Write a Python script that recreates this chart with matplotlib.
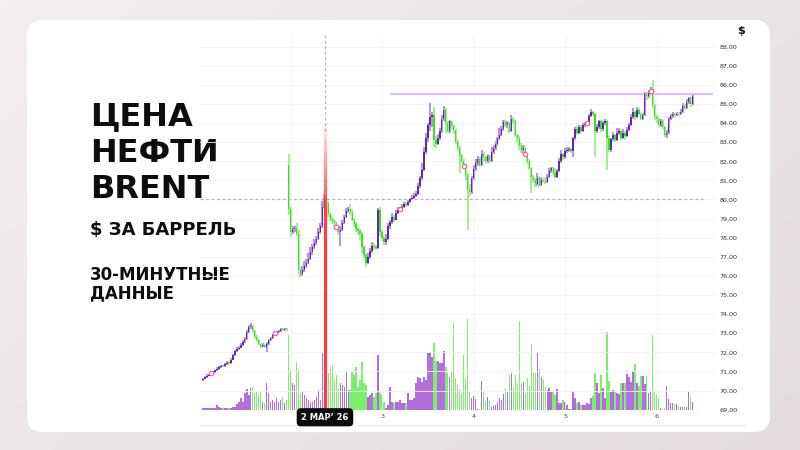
import numpy as np
import matplotlib
matplotlib.use("Agg")
import matplotlib.pyplot as plt
from matplotlib.patches import FancyBboxPatch
from matplotlib.collections import LineCollection
from matplotlib.colors import LinearSegmentedColormap

# ---- Brent, 30-minute candles (27 Feb .. 6 Mar 2026) ----
opens = [
    70.55, 70.62, 70.70, 70.78, 70.82, 70.90, 70.95, 71.05, 71.15, 71.22,
    71.30, 71.28, 71.38, 71.45, 71.42, 71.62, 71.85, 72.05, 72.18, 72.25,
    72.40, 72.55, 72.68, 73.05, 73.30, 73.40, 73.10, 72.80, 72.65, 72.45,
    72.30, 72.40, 72.30, 72.45, 72.62, 72.75, 72.90, 73.00, 73.05, 73.12,
    73.20, 73.18, 73.22, 81.80, 79.50, 78.30, 78.45, 78.50, 78.20, 76.30,
    76.10, 76.30, 76.50, 76.70, 76.90, 77.25, 77.50, 77.70, 77.95, 78.30,
    78.60, 79.60, 80.10, 79.80, 79.25, 79.00, 78.85, 78.75, 78.55, 78.30,
    78.40, 78.75, 79.10, 79.40, 79.50, 79.35, 78.95, 78.70, 78.45, 78.35,
    78.20, 77.50, 77.10, 76.70, 77.00, 77.30, 77.55, 77.50, 77.45, 79.45,
    78.30, 78.00, 77.75, 77.95, 78.60, 78.80, 79.10, 78.95, 79.30, 79.45,
    79.50, 79.62, 79.75, 79.70, 79.85, 80.00, 80.10, 80.20, 80.30, 80.70,
    81.10, 81.55, 82.50, 83.20, 83.90, 84.30, 84.40, 83.10, 82.90, 83.20,
    83.60, 84.20, 84.70, 84.00, 83.60, 84.10, 83.85, 83.60, 83.00, 82.70,
    82.25, 82.00, 81.75, 81.30, 80.50, 80.40, 81.10, 81.60, 81.90, 82.10,
    81.80, 82.40, 82.20, 82.00, 82.30, 82.00, 82.50, 82.70, 82.90, 83.15,
    83.40, 83.70, 84.05, 83.90, 84.00, 83.60, 84.20, 84.10, 83.40, 83.20,
    82.80, 82.60, 82.70, 82.38, 82.00, 81.65, 81.20, 81.00, 80.80, 81.10,
    80.75, 81.00, 80.95, 80.90, 81.20, 81.50, 81.65, 81.40, 81.20, 81.50,
    82.00, 82.40, 82.20, 82.55, 82.60, 82.65, 82.55, 83.20, 83.70, 83.50,
    83.80, 83.60, 83.90, 83.95, 84.00, 84.35, 84.60, 84.50, 83.60, 83.80,
    84.10, 83.70, 84.00, 84.10, 83.20, 82.60, 83.15, 83.40, 83.10, 83.50,
    83.60, 83.20, 83.50, 83.30, 83.65, 83.90, 84.30, 84.60, 84.30, 84.70,
    84.50, 84.20, 84.40, 85.50, 85.40, 85.60, 85.70, 84.90, 84.30, 84.20,
    83.90, 84.10, 83.80, 83.40, 83.50, 84.20, 84.35, 84.50, 84.40, 84.50,
    84.45, 84.60, 84.90, 84.80, 85.10, 85.30, 85.00,
]
highs = [
    70.68, 70.75, 70.84, 70.88, 70.96, 71.02, 71.10, 71.22, 71.28, 71.36,
    71.36, 71.44, 71.52, 71.55, 71.68, 71.92, 72.14, 72.26, 72.32, 72.48,
    72.62, 72.78, 73.15, 73.45, 73.52, 73.45, 73.15, 72.88, 72.70, 72.50,
    72.48, 72.45, 72.52, 72.70, 72.82, 72.96, 73.06, 73.12, 73.18, 73.26,
    73.25, 73.28, 73.26, 82.40, 79.60, 78.60, 78.62, 78.78, 78.40, 76.45,
    76.50, 76.80, 76.90, 77.20, 77.50, 77.65, 77.95, 78.10, 78.50, 78.75,
    79.90, 80.30, 80.20, 79.90, 79.30, 79.15, 79.00, 78.85, 78.65, 78.60,
    78.90, 79.20, 79.55, 79.60, 79.75, 79.50, 79.05, 78.80, 78.55, 78.45,
    78.30, 77.60, 77.20, 77.20, 77.45, 77.75, 77.70, 77.62, 79.55, 79.62,
    78.40, 78.10, 78.20, 78.75, 78.95, 79.30, 79.20, 79.45, 79.60, 79.62,
    79.75, 79.85, 79.85, 79.95, 80.10, 80.25, 80.32, 80.45, 80.85, 81.25,
    81.90, 82.76, 83.50, 84.00, 85.04, 84.60, 84.86, 83.30, 83.45, 83.75,
    84.40, 84.90, 84.80, 84.10, 84.15, 84.12, 83.95, 83.70, 83.10, 82.80,
    82.40, 82.10, 81.85, 81.40, 80.80, 81.25, 81.80, 82.10, 82.25, 82.20,
    82.59, 82.50, 82.30, 82.40, 82.35, 82.76, 82.85, 83.05, 83.25, 83.73,
    83.85, 84.16, 84.15, 84.10, 84.05, 84.42, 84.30, 84.15, 83.45, 83.30,
    82.94, 82.85, 82.80, 82.45, 82.10, 81.72, 81.30, 81.10, 81.37, 81.25,
    81.20, 81.15, 81.10, 81.35, 81.65, 81.72, 81.70, 81.63, 81.60, 82.15,
    82.59, 82.45, 82.68, 82.76, 82.75, 82.72, 83.29, 83.81, 83.85, 83.90,
    83.90, 83.99, 84.05, 84.10, 84.50, 84.72, 84.65, 84.55, 83.95, 84.16,
    84.15, 84.10, 84.20, 84.15, 83.30, 83.20, 83.55, 83.45, 83.73, 83.73,
    83.65, 83.70, 83.60, 83.80, 83.99, 84.50, 84.77, 84.65, 84.86, 84.80,
    84.55, 84.51, 85.64, 85.65, 85.73, 85.90, 86.26, 85.00, 84.40, 84.34,
    84.20, 84.15, 83.85, 83.65, 84.34, 84.50, 84.60, 84.55, 84.60, 84.60,
    84.75, 85.04, 85.00, 85.25, 85.38, 85.35, 85.47,
]
lows = [
    70.50, 70.58, 70.66, 70.74, 70.78, 70.86, 70.92, 71.00, 71.10, 71.18,
    71.22, 71.24, 71.34, 71.36, 71.38, 71.58, 71.80, 72.00, 72.12, 72.20,
    72.35, 72.50, 72.62, 73.00, 73.22, 73.02, 72.72, 72.55, 72.38, 72.25,
    72.26, 72.22, 72.03, 72.40, 72.58, 72.70, 72.85, 72.95, 73.00, 73.08,
    73.12, 73.14, 73.14, 79.20, 78.05, 78.20, 78.30, 78.10, 76.10, 75.95,
    76.00, 76.20, 76.40, 76.60, 76.85, 77.10, 77.40, 77.60, 77.90, 78.20,
    78.50, 79.55, 79.60, 79.10, 78.85, 78.70, 78.60, 78.45, 78.15, 77.55,
    78.35, 78.70, 79.05, 79.30, 79.20, 78.85, 78.55, 78.30, 78.15, 77.90,
    77.20, 76.90, 76.48, 76.60, 76.90, 77.20, 77.35, 77.35, 77.40, 78.10,
    77.85, 77.60, 77.62, 77.90, 78.45, 78.70, 78.80, 78.90, 79.25, 79.38,
    79.45, 79.55, 79.62, 79.65, 79.80, 79.95, 80.02, 80.15, 80.25, 80.60,
    81.00, 81.50, 82.40, 83.00, 83.60, 83.80, 82.76, 82.70, 82.85, 83.10,
    83.50, 84.10, 83.50, 83.45, 83.50, 83.70, 83.45, 82.90, 82.55, 81.37,
    81.85, 81.60, 81.00, 78.40, 80.20, 80.30, 81.00, 81.50, 81.75, 81.70,
    81.75, 82.00, 81.90, 81.90, 81.90, 81.95, 82.40, 82.60, 82.80, 83.10,
    83.30, 83.60, 83.80, 83.75, 83.47, 83.55, 83.95, 83.29, 83.00, 82.60,
    82.45, 82.40, 82.25, 81.85, 81.54, 80.32, 80.85, 80.67, 80.70, 80.67,
    80.70, 80.85, 80.80, 80.85, 81.10, 81.40, 81.30, 81.11, 81.15, 81.45,
    81.90, 82.05, 82.10, 82.45, 82.50, 82.45, 82.24, 83.10, 83.40, 83.45,
    83.47, 83.55, 83.80, 83.85, 83.95, 84.30, 84.35, 82.24, 83.47, 83.70,
    83.55, 83.60, 83.90, 81.54, 82.50, 82.50, 83.05, 83.03, 83.05, 83.40,
    83.12, 83.15, 83.12, 83.25, 83.60, 83.85, 84.20, 84.16, 84.25, 84.40,
    84.16, 84.15, 84.35, 85.21, 85.30, 85.50, 84.80, 84.16, 84.00, 83.81,
    83.80, 83.70, 83.29, 83.20, 83.45, 84.15, 84.25, 84.30, 84.35, 84.35,
    84.40, 84.51, 84.70, 84.75, 85.00, 84.86, 84.95,
]
closes = [
    70.62, 70.70, 70.78, 70.82, 70.90, 70.95, 71.05, 71.15, 71.22, 71.30,
    71.28, 71.38, 71.45, 71.42, 71.62, 71.85, 72.05, 72.18, 72.25, 72.40,
    72.55, 72.68, 73.05, 73.30, 73.40, 73.10, 72.80, 72.65, 72.45, 72.30,
    72.40, 72.30, 72.45, 72.62, 72.75, 72.90, 73.00, 73.05, 73.12, 73.20,
    73.18, 73.22, 73.20, 79.50, 78.30, 78.45, 78.50, 78.20, 76.30, 76.10,
    76.30, 76.50, 76.70, 76.90, 77.25, 77.50, 77.70, 77.95, 78.30, 78.60,
    79.60, 80.10, 79.80, 79.25, 79.00, 78.85, 78.75, 78.55, 78.30, 78.40,
    78.75, 79.10, 79.40, 79.50, 79.35, 78.95, 78.70, 78.45, 78.35, 78.20,
    77.50, 77.10, 76.70, 77.00, 77.30, 77.55, 77.50, 77.45, 79.45, 78.30,
    78.00, 77.75, 77.95, 78.60, 78.80, 79.10, 78.95, 79.30, 79.45, 79.50,
    79.62, 79.75, 79.70, 79.85, 80.00, 80.10, 80.20, 80.30, 80.70, 81.10,
    81.55, 82.50, 83.20, 83.90, 84.30, 84.40, 83.10, 82.90, 83.20, 83.60,
    84.20, 84.70, 84.00, 83.60, 84.10, 83.85, 83.60, 83.00, 82.70, 82.25,
    82.00, 81.75, 81.30, 80.50, 80.40, 81.10, 81.60, 81.90, 82.10, 81.80,
    82.40, 82.20, 82.00, 82.30, 82.00, 82.50, 82.70, 82.90, 83.15, 83.40,
    83.70, 84.05, 83.90, 84.00, 83.60, 84.20, 84.10, 83.40, 83.20, 82.80,
    82.60, 82.70, 82.38, 82.00, 81.65, 81.20, 81.00, 80.80, 81.10, 80.75,
    81.00, 80.95, 80.90, 81.20, 81.50, 81.65, 81.40, 81.20, 81.50, 82.00,
    82.40, 82.20, 82.55, 82.60, 82.65, 82.55, 83.20, 83.70, 83.50, 83.80,
    83.60, 83.90, 83.95, 84.00, 84.35, 84.60, 84.50, 83.60, 83.80, 84.10,
    83.70, 84.00, 84.10, 83.20, 82.60, 83.15, 83.40, 83.10, 83.50, 83.60,
    83.20, 83.50, 83.30, 83.65, 83.90, 84.30, 84.60, 84.30, 84.70, 84.50,
    84.20, 84.40, 85.50, 85.40, 85.60, 85.70, 84.90, 84.30, 84.20, 83.90,
    84.10, 83.80, 83.40, 83.50, 84.20, 84.35, 84.50, 84.40, 84.50, 84.45,
    84.60, 84.90, 84.80, 85.10, 85.30, 85.00, 85.40,
]
volumes = [
    2, 2, 2, 2, 2.5, 2, 2, 5, 3, 2,
    2, 2, 2.5, 2, 2, 3, 3, 6, 8, 12,
    8, 17, 21, 15, 22, 23, 17, 18, 15, 19,
    8, 7, 27, 17, 8, 10, 8, 12, 8, 10,
    13, 7, 10, 75, 40, 27, 25, 48, 40, 17,
    18, 15, 12, 10, 8, 8, 10, 13, 20, 10,
    57, 43, 45, 37, 43, 45, 30, 35, 22, 27,
    25, 23, 38, 20, 20, 38, 35, 43, 23, 30,
    48, 27, 25, 13, 15, 17, 13, 17, 55, 17,
    15, 8, 2, 5, 23, 8, 7, 8, 8, 10,
    7, 7, 7, 17, 10, 10, 12, 27, 33, 32,
    28, 33, 30, 57, 58, 53, 67, 49, 49, 47,
    47, 59, 43, 37, 33, 38, 87, 32, 25, 20,
    17, 55, 31, 91, 19, 12, 14, 11, 1, 1,
    29, 19, 9, 13, 9, 3, 4, 5, 8, 12,
    10, 16, 22, 18, 35, 37, 23, 35, 27, 89,
    27, 28, 17, 32, 24, 66, 37, 37, 57, 41,
    33, 31, 23, 20, 22, 18, 18, 15, 21, 7,
    7, 10, 8, 5, 1, 1, 19, 12, 7, 8,
    5, 5, 5, 7, 6, 12, 14, 37, 27, 17,
    35, 22, 12, 78, 29, 18, 20, 19, 17, 16,
    27, 27, 27, 36, 33, 28, 39, 46, 27, 24,
    34, 34, 26, 34, 17, 19, 75, 18, 15, 12,
    2, 1, 2, 24, 11, 7, 7, 6, 6, 4,
    3, 3, 3, 3, 19, 13, 8,
]

day_ticks = [44, 90, 136, 182, 228]
day_labels = ["", "3", "4", "5", "6"]
price_ticks = list(range(69, 89))
marker_idx = [4, 36, 67, 99, 131, 162, 193, 225]
cursor_x = 61.3
cursor_price = 80.0
cursor_label = "2 МАР’ 26"
resistance = 85.5

title_lines = ["ЦЕНА", "НЕФТИ", "BRENT"]
subtitle = "$ ЗА БАРРЕЛЬ"
note_lines = ["30-МИНУТНЫЕ", "ДАННЫЕ"]

# colours
PURPLE = "#6424b4"
PURPLE_WICK = "#b493dc"
GREEN = "#35e41a"
GREEN_WICK = "#a0f08c"
VOL_PURPLE = "#b46ddc"
VOL_GREEN = "#7eee6f"

o = np.array(opens)
h = np.array(highs)
l = np.array(lows)
c = np.array(closes)
v = np.array(volumes)
x = np.arange(len(c))
up = c >= o

fig = plt.figure(figsize=(8, 4.5), dpi=100)

# -------- background + white card (pixel coordinates) --------
bg = fig.add_axes([0, 0, 1, 1])
bg.set_xlim(0, 800)
bg.set_ylim(450, 0)
bg.axis("off")
gx, gy = np.meshgrid(np.linspace(0, 1, 200), np.linspace(0, 1, 120))
cmap = LinearSegmentedColormap.from_list("bg", ["#f3eef1", "#e3dbe0"])
bg.imshow(0.6 * gx + 0.4 * gy, extent=(0, 800, 450, 0), cmap=cmap, aspect="auto", zorder=0)
bg.add_patch(FancyBboxPatch((27, 20), 743, 412, boxstyle="round,pad=0,rounding_size=16",
                            fc="white", ec="none", zorder=1))
bg.plot([200, 745], [425, 425], color="#e8e8e8", lw=0.8, zorder=2)

# -------- left text block --------
for txt, yb in zip(title_lines, [125, 162, 198.5]):
    bg.text(90, yb, txt, fontsize=23, fontweight="bold", color="#0d0d0d",
            va="baseline", ha="left", zorder=3)
bg.text(90, 235, subtitle, fontsize=13, fontweight="bold", color="#0d0d0d",
        va="baseline", ha="left", zorder=3)
for txt, yb in zip(note_lines, [280.5, 298]):
    bg.text(90, yb, txt, fontsize=12, fontweight="bold", color="#0d0d0d",
            va="baseline", ha="left", zorder=3, linespacing=1.0)
bg.text(741, 31, "$", fontsize=8, fontweight="bold", color="#111", ha="center", va="center", zorder=3)

rect = [0.25, 1 - 410 / 450, 515 / 800, 375 / 450]

# -------- volume --------
axv = fig.add_axes(rect)
axv.patch.set_alpha(0)
axv.bar(x, v, width=0.75, color=np.where(up, VOL_PURPLE, VOL_GREEN), linewidth=0)
axv.set_ylim(0, 375)
axv.set_xlim(-1.5, 257.3)
axv.axis("off")

# -------- price --------
ax = fig.add_axes(rect, sharex=axv)
ax.patch.set_alpha(0)
ax.set_ylim(68.98, 88.61)
for s in ax.spines.values():
    s.set_visible(False)
ax.yaxis.tick_right()
ax.set_yticks(price_ticks, [f"{p:.2f}".replace(".", ",") for p in price_ticks])
ax.set_xticks(day_ticks, day_labels)
ax.tick_params(axis="y", length=0, pad=3, labelsize=4.6, labelcolor="#333333")
ax.tick_params(axis="x", length=0, pad=3, labelsize=4.6, labelcolor="#444444")
ax.grid(True, color="#f2f2f2", lw=0.6)
ax.set_axisbelow(True)

# reference lines
ax.hlines(cursor_price, -1.5, 251.3, colors="#b5b5b5", lw=0.9, linestyles=(0, (2.2, 2.2)), zorder=1)
ax.hlines(resistance, 94, 256.3, colors="#dcc4f0", lw=1.6, zorder=1)
ax.vlines(cursor_x, 83.6, 88.61, colors="#b5b5b5", lw=0.9, linestyles=(0, (2.2, 2.2)), zorder=1)

# candles
ax.vlines(x, l, h, colors=np.where(up, PURPLE_WICK, GREEN_WICK), lw=1.4, zorder=3)
ax.bar(x, np.maximum(np.abs(c - o), 0.05), bottom=np.minimum(o, c), width=0.72,
       color=np.where(up, PURPLE, GREEN), linewidth=0, zorder=4)

# markers
mi = np.array(marker_idx)
ax.scatter(mi, c[mi], s=10, facecolors="white", edgecolors="#ff5ea8", linewidths=0.9, zorder=6)

# red cursor line, fading in at the top
ys = np.linspace(84.3, 79.7, 40)
segs = [[(cursor_x, ys[i]), (cursor_x, ys[i + 1])] for i in range(len(ys) - 1)]
alphas = np.linspace(0.0, 1.0, len(segs))
ax.add_collection(LineCollection(segs, colors=[(1, 0.23, 0.23, a) for a in alphas], lw=2.3, zorder=7))
ax.vlines(cursor_x, 68.98, 79.72, colors="#ff3b3b", lw=2.3, zorder=7)

ax.text(cursor_x, 68.6, cursor_label, fontsize=6, fontweight="bold", color="white",
        ha="center", va="center", clip_on=False, zorder=8,
        bbox=dict(boxstyle="round,pad=0.55,rounding_size=0.5", fc="#0b0b0b", ec="none"))

fig.savefig("out.png", dpi=100)
